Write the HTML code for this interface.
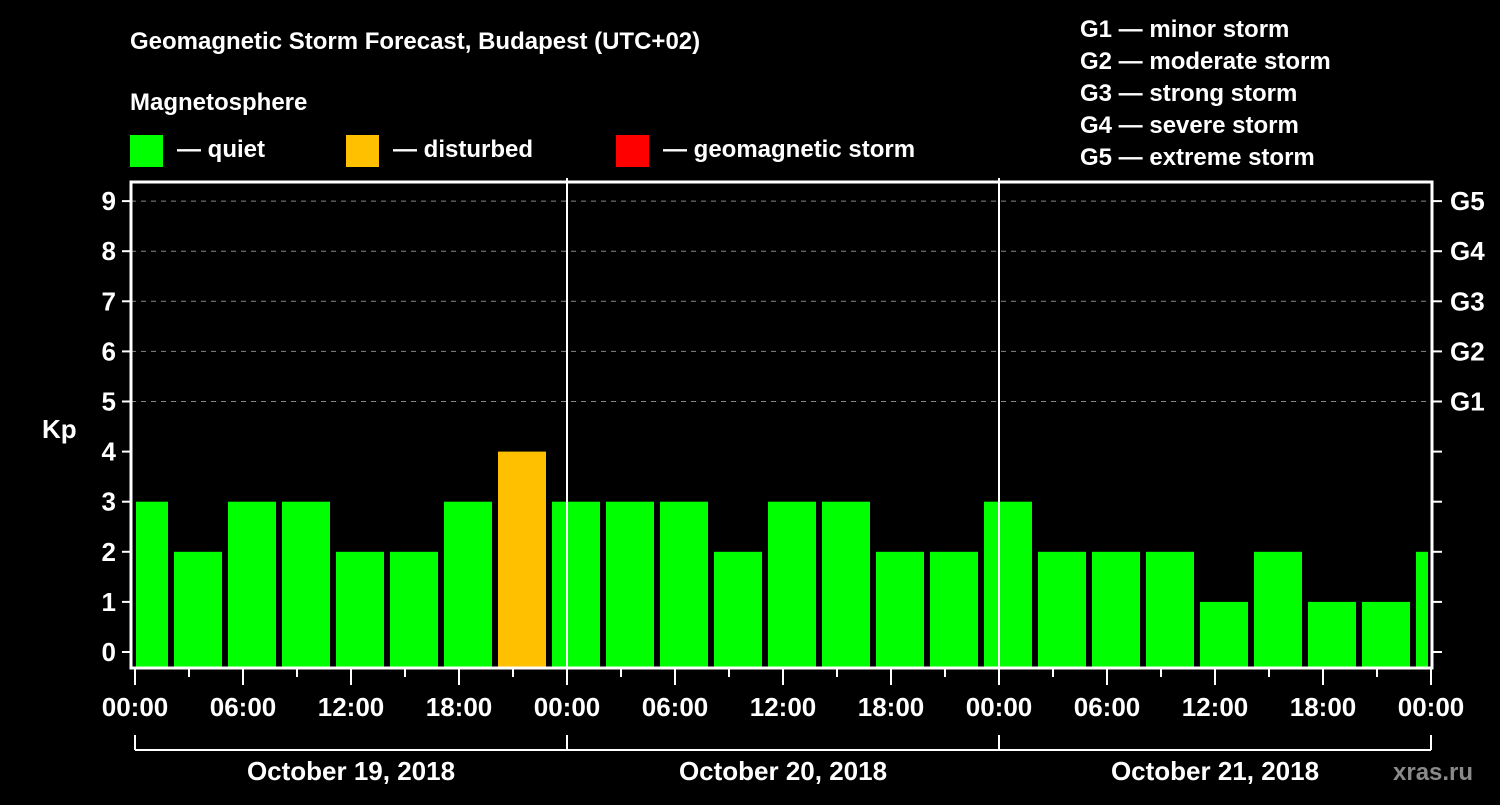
<!DOCTYPE html>
<html><head><meta charset="utf-8"><style>
body{margin:0;background:#000;}
svg text{font-family:"Liberation Sans",sans-serif;font-weight:bold;fill:#fff;}
</style></head><body>
<svg width="1500" height="800" viewBox="0 0 1500 800">
<rect width="1500" height="800" fill="#000"/>
<text x="130" y="49" font-size="24">Geomagnetic Storm Forecast, Budapest (UTC+02)</text>
<text x="130" y="110" font-size="24">Magnetosphere</text>
<g>
<rect x="130" y="135" width="33" height="32" fill="#00ff00"/>
<text x="177" y="157" font-size="24">— quiet</text>
<rect x="346" y="135" width="33" height="32" fill="#ffc000"/>
<text x="393" y="157" font-size="24">— disturbed</text>
<rect x="616" y="135" width="33" height="32" fill="#ff0000"/>
<text x="663" y="157" font-size="24">— geomagnetic storm</text>
</g>
<g font-size="24">
<text x="1080" y="37">G1 — minor storm</text>
<text x="1080" y="69">G2 — moderate storm</text>
<text x="1080" y="101">G3 — strong storm</text>
<text x="1080" y="133">G4 — severe storm</text>
<text x="1080" y="165">G5 — extreme storm</text>
</g>
<text x="42" y="438" font-size="26">Kp</text>
<text x="1393" y="780" font-size="24" fill="#888" style="fill:#8a8a8a">xras.ru</text>
<g id="plot"></g>
</svg>
<script>
const values=[3,2,3,3,2,2,3,4,3,3,3,2,3,3,2,2,3,2,2,2,1,2,1,1,2];
const hourLabels=["00:00","06:00","12:00","18:00"];
const dayLabels=["October 19, 2018","October 20, 2018","October 21, 2018"];
const gLabels=["G1","G2","G3","G4","G5"];
const NS="http://www.w3.org/2000/svg";
const plot=document.getElementById('plot');
const X0=135,PX_H=18,L=131,R=1432,T=182,B=668;
const xs=h=>X0+h*PX_H;
const ys=k=>652-k*50.1;
function mk(tag,a,parent){const e=document.createElementNS(NS,tag);for(const k in a)e.setAttribute(k,a[k]);(parent||plot).appendChild(e);return e;}
// grid
for(let k=5;k<=9;k++){const g=mk('line',{x1:L,x2:R,y1:ys(k),y2:ys(k),stroke:'#888','stroke-dasharray':'5,5','stroke-width':1});

}
// bars
const clip=mk('clipPath',{id:'pc'});mk('rect',{x:L+5,y:T,width:R-L-5-4,height:B-T},clip);
const bg=mk('g',{'clip-path':'url(#pc)'});
values.forEach((v,i)=>{const start=-1+3*i;const x=xs(start)+3;const c=v>=5?'#ff0000':(v>=4?'#ffc000':'#00ff00');
const r=mk('rect',{x:x,y:ys(v),width:48,height:B-ys(v),fill:c},bg);

});
// day separators
[1,2].forEach(d=>{const l=mk('line',{x1:xs(24*d),x2:xs(24*d),y1:T-4,y2:B,stroke:'#fff','stroke-width':2});

});
// frame
const f=mk('rect',{x:L,y:T,width:R-L,height:B-T,fill:'none',stroke:'#fff','stroke-width':3});


// y ticks
for(let k=0;k<=9;k++){mk('line',{x1:L-9,x2:L,y1:ys(k),y2:ys(k),stroke:'#fff','stroke-width':2});
mk('line',{x1:R,x2:R+10,y1:ys(k),y2:ys(k),stroke:'#fff','stroke-width':2});
const t=mk('text',{x:L-15,y:ys(k)+9,'font-size':26,'text-anchor':'end'});t.textContent=k;


if(k>=5){const g=mk('text',{x:1450,y:ys(k)+9,'font-size':26});g.textContent=gLabels[k-5];

}}
// x ticks
for(let h=0;h<=72;h+=3){const major=h%6===0;mk('line',{x1:xs(h),x2:xs(h),y1:B,y2:B+(major?17:9),stroke:'#fff','stroke-width':2});}
for(let h=0;h<=72;h+=6){const lbl=hourLabels[(h/6)%4];const t=mk('text',{x:xs(h),y:716,'font-size':26,'text-anchor':'middle'});t.textContent=lbl;

}
// day bracket
mk('line',{x1:xs(0),x2:xs(72),y1:750,y2:750,stroke:'#fff','stroke-width':2});
for(let d=0;d<=3;d++)mk('line',{x1:xs(24*d),x2:xs(24*d),y1:735,y2:750,stroke:'#fff','stroke-width':2});
dayLabels.forEach((s,d)=>{const t=mk('text',{x:xs(24*d+12),y:780,'font-size':26,'text-anchor':'middle'});t.textContent=s;

});
</script>
</body></html>
